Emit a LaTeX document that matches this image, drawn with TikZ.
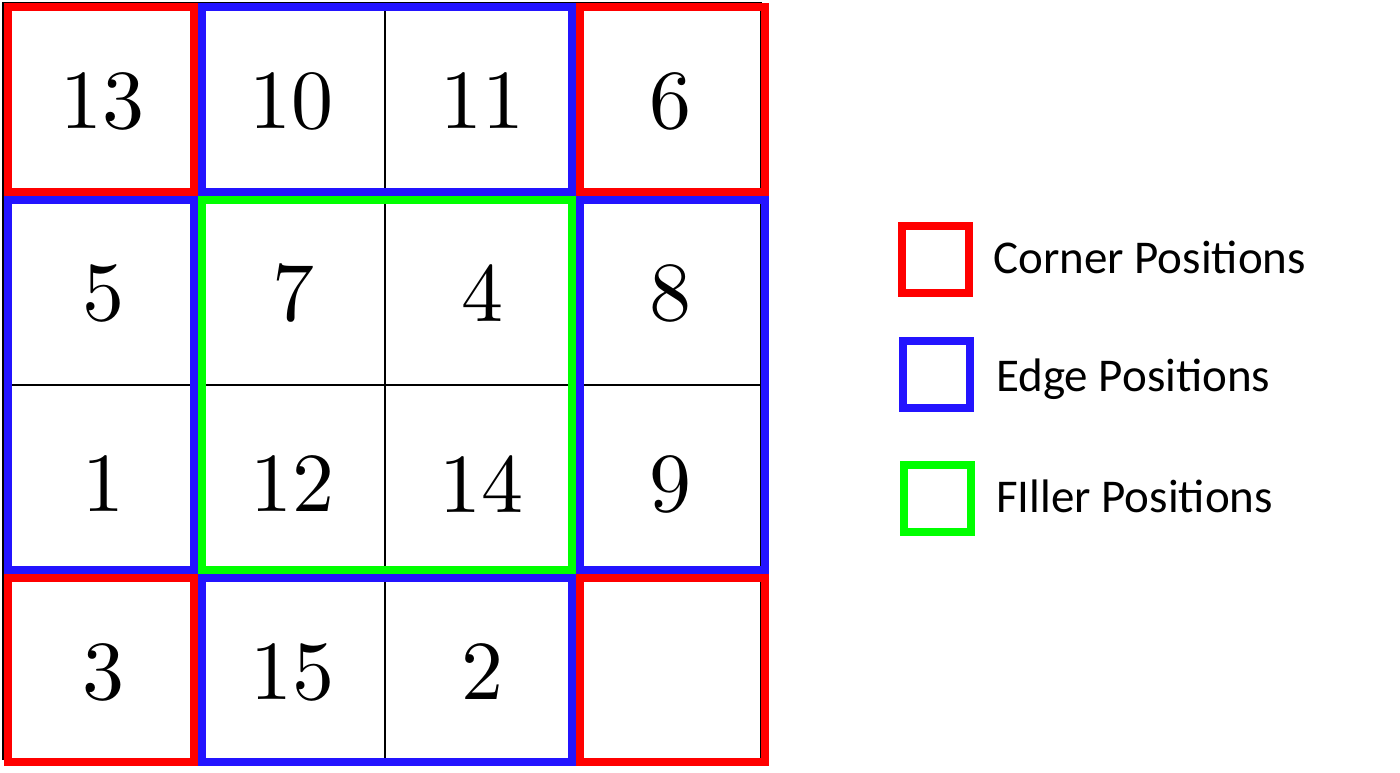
\documentclass[tikz,border=0pt]{standalone}
\usepackage{fontspec}
\newfontfamily\legfont{Carlito}
\definecolor{cred}{RGB}{255,0,0}
\definecolor{cblue}{RGB}{35,20,255}
\definecolor{cgreen}{RGB}{0,255,0}
\begin{document}
\begin{tikzpicture}[x=1pt,y=-1pt,
  frame/.style={line width=8pt},
  gridline/.style={line width=2.3pt,black},
  num/.style={inner sep=0pt,font=\fontsize{10}{12}\selectfont,scale=8.4},
  legbox/.style={draw,line width=8pt,minimum width=67pt,minimum height=67pt,inner sep=0pt},
  legtext/.style={inner sep=0pt,anchor=base west,font=\legfont\fontsize{47}{56}\selectfont}]
\useasboundingbox (0,0) rectangle (1400,773);
\fill[white] (0,0) rectangle (1400,773);
% black grid
\draw[line width=1.5pt,black] (3,3) rectangle (761,759);
\draw[gridline] (385,5) -- (385,765);
\draw[gridline] (5,385) -- (765,385);
% coloured frames
\draw[frame,cred] (8,7) rectangle (194,192);
\draw[frame,cblue] (202,7) rectangle (572,192);
\draw[frame,cred] (580,7) rectangle (765,192);
\draw[frame,cblue] (8,200) rectangle (194,570);
\draw[frame,cgreen] (202,200) rectangle (572,570);
\draw[frame,cblue] (580,200) rectangle (765,570);
\draw[frame,cred] (8,578) rectangle (194,762);
\draw[frame,cblue] (202,578) rectangle (572,762);
\draw[frame,cred] (580,578) rectangle (765,762);
% numbers
\node[num] (n13) at (102,101) {13};
\node[num] (n10) at (291,101) {10};
\node[num] (n11) at (482,101) {11};
\node[num] (n6)  at (670,101) {6};
\node[num] (n5)  at (103,293) {5};
\node[num] (n7)  at (293,293) {7};
\node[num] (n4)  at (482,293) {4};
\node[num] (n8)  at (670,293) {8};
\node[num] (n1)  at (103,484) {1};
\node[num] (n12) at (292,484) {12};
\node[num] (n14) at (481,484) {14};
\node[num] (n9)  at (670,484) {9};
\node[num] (n3)  at (103,672) {3};
\node[num] (n15) at (292,672) {15};
\node[num] (n2)  at (482,672) {2};
% legend
\node[legbox,cred]   (lr) at (935.5,259.5) {};
\node[legbox,cblue]  (lb) at (936,374) {};
\node[legbox,cgreen] (lg) at (937,498) {};
\node[legtext] (tr) at (993,273) {Corner Positions};
\node[legtext] (tb) at (996,391) {Edge Positions};
\node[legtext] (tg) at (996,512) {FIller Positions};
\end{tikzpicture}
\end{document}
